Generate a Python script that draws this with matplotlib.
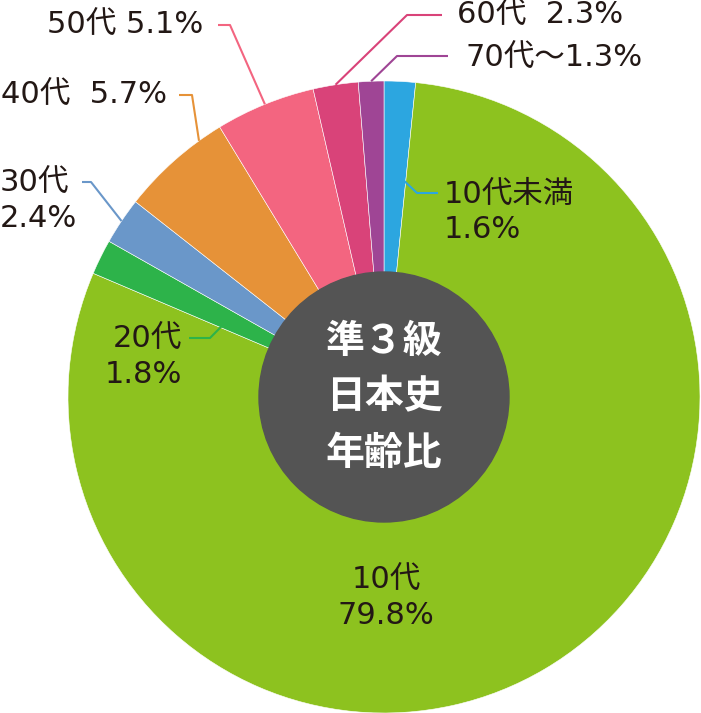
import numpy as np
import matplotlib.pyplot as plt

# ------------------------------------------------------------------------------
# data
labels = ['10代未満', '10代', '20代', '30代', '40代', '50代', '60代', '70代〜']
shares = [1.6, 79.8, 1.8, 2.4, 5.7, 5.1, 2.3, 1.3]
colors = ['#2ca6e0', '#8dc21f', '#2db34a', '#6a97c9',
          '#e69238', '#f36580', '#d94379', '#9f4595']
title_lines = ['準３級', '日本史', '年齢比']

# separator between name and percentage in each label
seps = ['\n', '\n', '\n', '\n', '  ', ' ', '  ', '']

# ------------------------------------------------------------------------------
# layout, in pixel coordinates of the 701x713 picture (y grows downwards)
CX, CY, R = 384, 397, 316
HOLE_R = 125
TEXT_COLOR = '#231815'
FONT = ['DejaVu Sans', 'Noto Sans CJK JP']

# label: (frac inside wedge, radius frac, elbow, end x, text xy, ha)
leaders = {
    '10代未満': (0.87, 0.69, (417, 193), 438, (444, 212), 'left'),
    '10代':     (None, None, None, None, (386, 598), 'center'),
    '20代':     (0.10, 0.56, (210, 338), 189, (182, 357), 'right'),
    '30代':     (0.50, 1.00, (91, 182), 82, (0, 201), 'left'),
    '40代':     (0.78, 1.00, (192, 95), 179, (167, 95), 'right'),
    '50代':     (0.50, 1.00, (230, 25), 218, (203, 25), 'right'),
    '60代':     (0.50, 1.00, (407, 15), 442, (457, 15), 'left'),
    '70代〜':   (0.50, 1.00, (397, 56), 448, (466, 58), 'left'),
}


def wedge_point(start_pct, value, frac, rfrac):
    # clockwise angle from 12 o'clock
    ang = np.deg2rad(360. * (start_pct + frac * value) / 100.)
    return CX + R * rfrac * np.sin(ang), CY - R * rfrac * np.cos(ang)


fig = plt.figure(figsize=(7.01, 7.13), dpi=100)
ax = fig.add_axes([0, 0, 1, 1])

# y axis is inverted, so counterclock=True draws clockwise on screen
ax.pie(shares, colors=colors, startangle=-90, counterclock=True,
       center=(CX, CY), radius=R,
       wedgeprops={'edgecolor': 'white', 'linewidth': 0.4})
ax.add_patch(plt.Circle((CX, CY), HOLE_R, color='#545454', zorder=3))

ax.set_xlim(0, 701)
ax.set_ylim(713, 0)
ax.set_aspect('equal')
ax.axis('off')

# leader lines and labels
cum = np.concatenate([[0.], np.cumsum(shares)[:-1]])
for name, value, start, color, sep in zip(labels, shares, cum, colors, seps):
    frac, rfrac, elbow, end_x, txy, ha = leaders[name]
    if frac is not None:
        px, py = wedge_point(start, value, frac, rfrac)
        ax.plot([px, elbow[0], end_x], [py, elbow[1], elbow[1]],
                color=color, lw=1.5, zorder=4, solid_capstyle='butt')
    ax.text(txy[0], txy[1], '%s%s%.1f%%' % (name, sep, value),
            ha=ha, va='center', ma=ha, fontsize=22, color=TEXT_COLOR,
            family=FONT, linespacing=1.3, zorder=5)

# title inside the hole
for i, line in enumerate(title_lines):
    ax.text(CX, CY + (i - 1) * 56, line, ha='center', va='center',
            fontsize=28, fontweight='bold', color='white',
            family='Noto Sans CJK JP', zorder=6)

plt.savefig('out.png', dpi=100)
